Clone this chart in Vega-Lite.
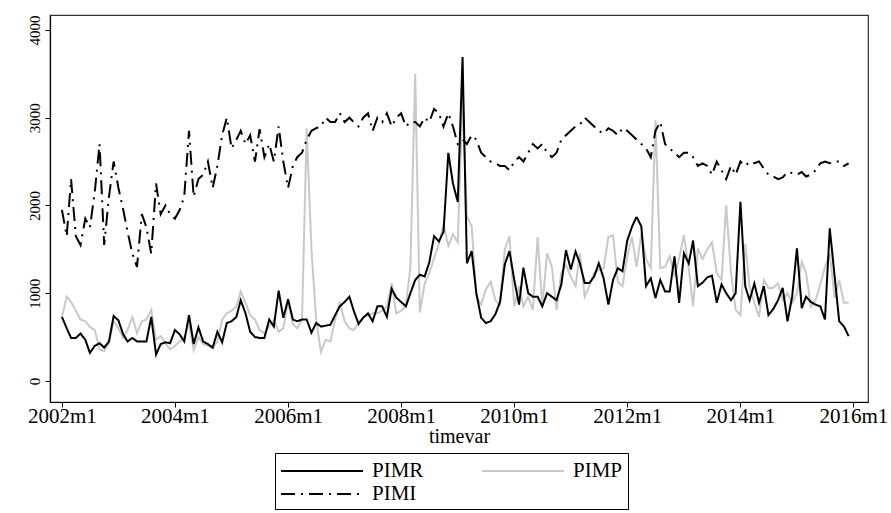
{
  "$schema": "https://vega.github.io/schema/vega-lite/v6.json",
  "width": 818,
  "height": 387,
  "autosize": "none",
  "padding": {"left": 50, "top": 15, "right": 23, "bottom": 111},
  "background": "white",
  "config": {
    "view": {"stroke": "#333", "strokeWidth": 1.2},
    "font": "Liberation Serif",
    "axis": {"labelFont": "Liberation Serif", "titleFont": "Liberation Serif", "domainColor": "black", "tickColor": "black", "labelColor": "black", "titleColor": "black", "grid": false, "titleFontWeight": "normal"}
  },
  "data": {"values": [
{"d":"2002-01","PIMR":730,"PIMP":730,"PIMI":1950},
{"d":"2002-02","PIMR":600,"PIMP":960,"PIMI":1650},
{"d":"2002-03","PIMR":490,"PIMP":900,"PIMI":2300},
{"d":"2002-04","PIMR":490,"PIMP":800,"PIMI":1650},
{"d":"2002-05","PIMR":540,"PIMP":700,"PIMI":1550},
{"d":"2002-06","PIMR":470,"PIMP":680,"PIMI":1850},
{"d":"2002-07","PIMR":320,"PIMP":615,"PIMI":1750},
{"d":"2002-08","PIMR":400,"PIMP":580,"PIMI":2150},
{"d":"2002-09","PIMR":430,"PIMP":360,"PIMI":2700},
{"d":"2002-10","PIMR":380,"PIMP":340,"PIMI":1550},
{"d":"2002-11","PIMR":450,"PIMP":430,"PIMI":2100},
{"d":"2002-12","PIMR":740,"PIMP":680,"PIMI":2500},
{"d":"2003-01","PIMR":690,"PIMP":600,"PIMI":2200},
{"d":"2003-02","PIMR":530,"PIMP":490,"PIMI":1950},
{"d":"2003-03","PIMR":450,"PIMP":580,"PIMI":1700},
{"d":"2003-04","PIMR":490,"PIMP":730,"PIMI":1450},
{"d":"2003-05","PIMR":450,"PIMP":545,"PIMI":1300},
{"d":"2003-06","PIMR":450,"PIMP":680,"PIMI":1900},
{"d":"2003-07","PIMR":450,"PIMP":700,"PIMI":1750},
{"d":"2003-08","PIMR":730,"PIMP":810,"PIMI":1450},
{"d":"2003-09","PIMR":300,"PIMP":470,"PIMI":2250},
{"d":"2003-10","PIMR":420,"PIMP":510,"PIMI":1900},
{"d":"2003-11","PIMR":440,"PIMP":430,"PIMI":2000},
{"d":"2003-12","PIMR":430,"PIMP":360,"PIMI":1900},
{"d":"2004-01","PIMR":580,"PIMP":400,"PIMI":1850},
{"d":"2004-02","PIMR":530,"PIMP":450,"PIMI":1950},
{"d":"2004-03","PIMR":450,"PIMP":500,"PIMI":2100},
{"d":"2004-04","PIMR":750,"PIMP":650,"PIMI":2850},
{"d":"2004-05","PIMR":420,"PIMP":350,"PIMI":2100},
{"d":"2004-06","PIMR":610,"PIMP":500,"PIMI":2300},
{"d":"2004-07","PIMR":450,"PIMP":420,"PIMI":2350},
{"d":"2004-08","PIMR":420,"PIMP":400,"PIMI":2500},
{"d":"2004-09","PIMR":380,"PIMP":370,"PIMI":2200},
{"d":"2004-10","PIMR":560,"PIMP":450,"PIMI":2450},
{"d":"2004-11","PIMR":440,"PIMP":700,"PIMI":2800},
{"d":"2004-12","PIMR":660,"PIMP":770,"PIMI":3000},
{"d":"2005-01","PIMR":680,"PIMP":800,"PIMI":2650},
{"d":"2005-02","PIMR":730,"PIMP":850,"PIMI":2750},
{"d":"2005-03","PIMR":920,"PIMP":1020,"PIMI":2850},
{"d":"2005-04","PIMR":770,"PIMP":890,"PIMI":2700},
{"d":"2005-05","PIMR":560,"PIMP":750,"PIMI":2800},
{"d":"2005-06","PIMR":500,"PIMP":700,"PIMI":2500},
{"d":"2005-07","PIMR":490,"PIMP":580,"PIMI":2870},
{"d":"2005-08","PIMR":490,"PIMP":545,"PIMI":2550},
{"d":"2005-09","PIMR":700,"PIMP":620,"PIMI":2700},
{"d":"2005-10","PIMR":620,"PIMP":700,"PIMI":2500},
{"d":"2005-11","PIMR":1030,"PIMP":560,"PIMI":2900},
{"d":"2005-12","PIMR":720,"PIMP":600,"PIMI":2500},
{"d":"2006-01","PIMR":930,"PIMP":900,"PIMI":2200},
{"d":"2006-02","PIMR":700,"PIMP":650,"PIMI":2450},
{"d":"2006-03","PIMR":680,"PIMP":600,"PIMI":2550},
{"d":"2006-04","PIMR":700,"PIMP":700,"PIMI":2600},
{"d":"2006-05","PIMR":700,"PIMP":2880,"PIMI":2750},
{"d":"2006-06","PIMR":550,"PIMP":1500,"PIMI":2850},
{"d":"2006-07","PIMR":660,"PIMP":700,"PIMI":2880},
{"d":"2006-08","PIMR":620,"PIMP":330,"PIMI":2900},
{"d":"2006-09","PIMR":630,"PIMP":470,"PIMI":3000},
{"d":"2006-10","PIMR":640,"PIMP":450,"PIMI":2950},
{"d":"2006-11","PIMR":750,"PIMP":700,"PIMI":2950},
{"d":"2006-12","PIMR":850,"PIMP":900,"PIMI":3050},
{"d":"2007-01","PIMR":900,"PIMP":680,"PIMI":2950},
{"d":"2007-02","PIMR":960,"PIMP":600,"PIMI":3000},
{"d":"2007-03","PIMR":800,"PIMP":580,"PIMI":2950},
{"d":"2007-04","PIMR":650,"PIMP":650,"PIMI":2900},
{"d":"2007-05","PIMR":720,"PIMP":730,"PIMI":3000},
{"d":"2007-06","PIMR":770,"PIMP":750,"PIMI":3050},
{"d":"2007-07","PIMR":680,"PIMP":770,"PIMI":2850},
{"d":"2007-08","PIMR":850,"PIMP":770,"PIMI":3000},
{"d":"2007-09","PIMR":850,"PIMP":800,"PIMI":2950},
{"d":"2007-10","PIMR":730,"PIMP":850,"PIMI":3050},
{"d":"2007-11","PIMR":1050,"PIMP":1115,"PIMI":2900},
{"d":"2007-12","PIMR":950,"PIMP":770,"PIMI":3000},
{"d":"2008-01","PIMR":900,"PIMP":800,"PIMI":3050},
{"d":"2008-02","PIMR":850,"PIMP":850,"PIMI":2900},
{"d":"2008-03","PIMR":1000,"PIMP":1300,"PIMI":2950},
{"d":"2008-04","PIMR":1150,"PIMP":3500,"PIMI":2950},
{"d":"2008-05","PIMR":1210,"PIMP":780,"PIMI":2900},
{"d":"2008-06","PIMR":1190,"PIMP":1110,"PIMI":3000},
{"d":"2008-07","PIMR":1350,"PIMP":1230,"PIMI":2950},
{"d":"2008-08","PIMR":1650,"PIMP":1400,"PIMI":3100},
{"d":"2008-09","PIMR":1590,"PIMP":1560,"PIMI":3050},
{"d":"2008-10","PIMR":1700,"PIMP":1780,"PIMI":2900},
{"d":"2008-11","PIMR":2600,"PIMP":1540,"PIMI":3050},
{"d":"2008-12","PIMR":2250,"PIMP":1670,"PIMI":2900},
{"d":"2009-01","PIMR":2040,"PIMP":1580,"PIMI":2700},
{"d":"2009-02","PIMR":3690,"PIMP":3220,"PIMI":2750},
{"d":"2009-03","PIMR":1340,"PIMP":1875,"PIMI":2700},
{"d":"2009-04","PIMR":1480,"PIMP":1760,"PIMI":2800},
{"d":"2009-05","PIMR":1000,"PIMP":960,"PIMI":2750},
{"d":"2009-06","PIMR":720,"PIMP":870,"PIMI":2600},
{"d":"2009-07","PIMR":660,"PIMP":1040,"PIMI":2550},
{"d":"2009-08","PIMR":680,"PIMP":1130,"PIMI":2500},
{"d":"2009-09","PIMR":760,"PIMP":920,"PIMI":2480},
{"d":"2009-10","PIMR":900,"PIMP":870,"PIMI":2450},
{"d":"2009-11","PIMR":1330,"PIMP":1500,"PIMI":2450},
{"d":"2009-12","PIMR":1480,"PIMP":1650,"PIMI":2400},
{"d":"2010-01","PIMR":1150,"PIMP":850,"PIMI":2500},
{"d":"2010-02","PIMR":870,"PIMP":1080,"PIMI":2550},
{"d":"2010-03","PIMR":1290,"PIMP":850,"PIMI":2500},
{"d":"2010-04","PIMR":1000,"PIMP":960,"PIMI":2600},
{"d":"2010-05","PIMR":960,"PIMP":810,"PIMI":2700},
{"d":"2010-06","PIMR":960,"PIMP":1640,"PIMI":2650},
{"d":"2010-07","PIMR":850,"PIMP":850,"PIMI":2700},
{"d":"2010-08","PIMR":1000,"PIMP":1455,"PIMI":2600},
{"d":"2010-09","PIMR":960,"PIMP":1300,"PIMI":2550},
{"d":"2010-10","PIMR":920,"PIMP":810,"PIMI":2600},
{"d":"2010-11","PIMR":1100,"PIMP":1230,"PIMI":2750},
{"d":"2010-12","PIMR":1490,"PIMP":1320,"PIMI":2800},
{"d":"2011-01","PIMR":1270,"PIMP":1190,"PIMI":2850},
{"d":"2011-02","PIMR":1475,"PIMP":1080,"PIMI":2900},
{"d":"2011-03","PIMR":1340,"PIMP":1455,"PIMI":2920},
{"d":"2011-04","PIMR":1115,"PIMP":960,"PIMI":3000},
{"d":"2011-05","PIMR":1115,"PIMP":1080,"PIMI":2950},
{"d":"2011-06","PIMR":1190,"PIMP":1230,"PIMI":2900},
{"d":"2011-07","PIMR":1340,"PIMP":1260,"PIMI":2850},
{"d":"2011-08","PIMR":1170,"PIMP":1285,"PIMI":2820},
{"d":"2011-09","PIMR":870,"PIMP":1640,"PIMI":2880},
{"d":"2011-10","PIMR":1150,"PIMP":1660,"PIMI":2850},
{"d":"2011-11","PIMR":1285,"PIMP":1130,"PIMI":2800},
{"d":"2011-12","PIMR":1250,"PIMP":1080,"PIMI":2880},
{"d":"2012-01","PIMR":1600,"PIMP":1420,"PIMI":2850},
{"d":"2012-02","PIMR":1760,"PIMP":1640,"PIMI":2800},
{"d":"2012-03","PIMR":1870,"PIMP":1300,"PIMI":2750},
{"d":"2012-04","PIMR":1760,"PIMP":1680,"PIMI":2700},
{"d":"2012-05","PIMR":1080,"PIMP":1390,"PIMI":2650},
{"d":"2012-06","PIMR":1170,"PIMP":1285,"PIMI":2550},
{"d":"2012-07","PIMR":945,"PIMP":2970,"PIMI":2850},
{"d":"2012-08","PIMR":1150,"PIMP":1285,"PIMI":2950},
{"d":"2012-09","PIMR":1020,"PIMP":1300,"PIMI":2700},
{"d":"2012-10","PIMR":1020,"PIMP":1420,"PIMI":2650},
{"d":"2012-11","PIMR":1420,"PIMP":1190,"PIMI":2600},
{"d":"2012-12","PIMR":890,"PIMP":1400,"PIMI":2550},
{"d":"2013-01","PIMR":1455,"PIMP":1660,"PIMI":2600},
{"d":"2013-02","PIMR":1340,"PIMP":1285,"PIMI":2600},
{"d":"2013-03","PIMR":1600,"PIMP":850,"PIMI":2550},
{"d":"2013-04","PIMR":1080,"PIMP":1510,"PIMI":2450},
{"d":"2013-05","PIMR":1120,"PIMP":1390,"PIMI":2480},
{"d":"2013-06","PIMR":1180,"PIMP":1500,"PIMI":2450},
{"d":"2013-07","PIMR":1200,"PIMP":1580,"PIMI":2350},
{"d":"2013-08","PIMR":890,"PIMP":1230,"PIMI":2500},
{"d":"2013-09","PIMR":1100,"PIMP":1150,"PIMI":2400},
{"d":"2013-10","PIMR":1000,"PIMP":2000,"PIMI":2300},
{"d":"2013-11","PIMR":920,"PIMP":1230,"PIMI":2450},
{"d":"2013-12","PIMR":1000,"PIMP":810,"PIMI":2350},
{"d":"2014-01","PIMR":2040,"PIMP":750,"PIMI":2500},
{"d":"2014-02","PIMR":1080,"PIMP":1560,"PIMI":2450},
{"d":"2014-03","PIMR":920,"PIMP":1080,"PIMI":2500},
{"d":"2014-04","PIMR":1110,"PIMP":890,"PIMI":2480},
{"d":"2014-05","PIMR":890,"PIMP":730,"PIMI":2500},
{"d":"2014-06","PIMR":1080,"PIMP":1150,"PIMI":2420},
{"d":"2014-07","PIMR":750,"PIMP":1060,"PIMI":2350},
{"d":"2014-08","PIMR":820,"PIMP":1060,"PIMI":2330},
{"d":"2014-09","PIMR":920,"PIMP":1110,"PIMI":2300},
{"d":"2014-10","PIMR":1060,"PIMP":920,"PIMI":2320},
{"d":"2014-11","PIMR":680,"PIMP":1000,"PIMI":2380},
{"d":"2014-12","PIMR":960,"PIMP":890,"PIMI":2370},
{"d":"2015-01","PIMR":1510,"PIMP":1000,"PIMI":2350},
{"d":"2015-02","PIMR":830,"PIMP":1360,"PIMI":2380},
{"d":"2015-03","PIMR":960,"PIMP":1230,"PIMI":2330},
{"d":"2015-04","PIMR":900,"PIMP":850,"PIMI":2350},
{"d":"2015-05","PIMR":870,"PIMP":920,"PIMI":2400},
{"d":"2015-06","PIMR":850,"PIMP":1100,"PIMI":2480},
{"d":"2015-07","PIMR":700,"PIMP":1300,"PIMI":2500},
{"d":"2015-08","PIMR":1740,"PIMP":1455,"PIMI":2480},
{"d":"2015-09","PIMR":1200,"PIMP":945,"PIMI":2500},
{"d":"2015-10","PIMR":680,"PIMP":1150,"PIMI":2500},
{"d":"2015-11","PIMR":620,"PIMP":890,"PIMI":2450},
{"d":"2015-12","PIMR":510,"PIMP":890,"PIMI":2480}
  ]},
  "transform": [{"fold": ["PIMP", "PIMI", "PIMR"], "as": ["series", "value"]}],
  "mark": {"type": "line", "strokeWidth": 2},
  "encoding": {
    "x": {
      "field": "d", "type": "temporal",
      "scale": {"type": "utc", "domain": [{"year": 2001, "month": 10, "date": 16, "utc": true}, {"year": 2016, "month": 4, "date": 4, "utc": true}]},
      "axis": {
        "title": "timevar", "titleFontSize": 20, "titlePadding": 0,
        "values": [
          {"year": 2002, "month": 1, "date": 1, "utc": true},
          {"year": 2004, "month": 1, "date": 1, "utc": true},
          {"year": 2006, "month": 1, "date": 1, "utc": true},
          {"year": 2008, "month": 1, "date": 1, "utc": true},
          {"year": 2010, "month": 1, "date": 1, "utc": true},
          {"year": 2012, "month": 1, "date": 1, "utc": true},
          {"year": 2014, "month": 1, "date": 1, "utc": true},
          {"year": 2016, "month": 1, "date": 1, "utc": true}
        ],
        "format": "%Ym1", "labelFontSize": 21, "labelFlush": false, "labelOverlap": false,
        "tickSize": 5, "labelPadding": -2, "domainWidth": 1.2
      }
    },
    "y": {
      "field": "value", "type": "quantitative",
      "scale": {"domain": [-240, 4170], "nice": false, "zero": false},
      "axis": {"title": null, "values": [0, 1000, 2000, 3000, 4000], "format": "d", "labelAngle": -90, "labelAlign": "center", "labelBaseline": "bottom", "labelFontSize": 15, "tickSize": 5, "labelPadding": 3, "domainWidth": 1.2}
    },
    "color": {
      "field": "series", "type": "nominal",
      "scale": {"domain": ["PIMR", "PIMP", "PIMI"], "range": ["black", "#c9c9c9", "black"]},
      "legend": {
        "title": null, "orient": "none", "legendX": 225, "legendY": 438,
        "direction": "horizontal", "columns": 2, "strokeColor": "black", "padding": 5,
        "symbolType": "M-1,0H5.83", "symbolSize": 576, "symbolStrokeWidth": 2,
        "labelFont": "Liberation Serif", "labelFontSize": 21, "labelColor": "black",
        "labelOffset": 66, "columnPadding": 54, "rowPadding": 0, "labelLimit": 200
      }
    },
    "strokeDash": {
      "field": "series", "type": "nominal",
      "scale": {"domain": ["PIMR", "PIMP", "PIMI"], "range": [[1, 0], [1, 0], [14, 6, 2, 6]]},
      "legend": null
    }
  }
}
